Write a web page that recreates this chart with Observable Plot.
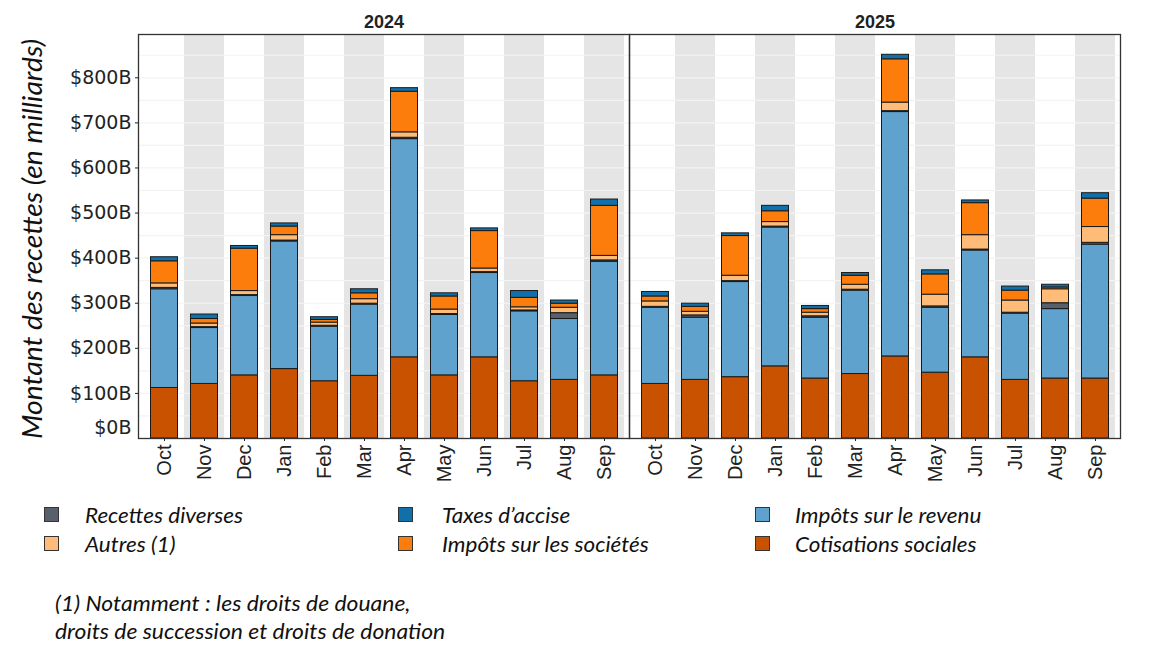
<!DOCTYPE html>
<html><head><meta charset="utf-8">
<script src="https://cdn.jsdelivr.net/npm/d3@7"></script>
<script src="https://cdn.jsdelivr.net/npm/@observablehq/plot@0.6"></script>
<style>
body{margin:0;background:#fff;width:1159px;height:646px;position:relative;overflow:hidden;font-family:"Liberation Sans",Arial,sans-serif}
#chart{position:absolute;left:0;top:0}
.it{position:absolute;font-family:Lato,"Open Sans",sans-serif;font-style:italic;color:#111;white-space:nowrap;line-height:1;transform-origin:0 50%}
.lt{font-size:21px;transform:scaleX(1.07)}
.fn{font-size:21px;transform:scaleX(1.09)}
.sw{position:absolute;width:15px;height:15px;border:1px solid #333;box-sizing:border-box}
#ytitle{position:absolute;left:31px;top:239px;transform-origin:50% 50%;transform:translate(-50%,-50%) rotate(-90deg) scaleX(1.047);font-size:27px}
</style></head><body>
<div id="chart"></div>
<div id="ytitle" class="it">Montant des recettes (en milliards)</div>
<div id="legend"></div>
<div class="it fn" style="left:55px;top:592px">(1) Notamment : les droits de douane,</div>
<div class="it fn" style="left:55px;top:620px">droits de succession et droits de donation</div>
<script>
const years = ["2024", "2025"];
const months = ["Oct","Nov","Dec","Jan","Feb","Mar","Apr","May","Jun","Jul","Aug","Sep"];
const categories = ["Cotisations sociales","Impôts sur le revenu","Recettes diverses","Autres (1)","Impôts sur les sociétés","Taxes d’accise"];
const colors = ["#c85200","#5fa2ce","#57606c","#ffbc79","#fc7d0b","#1170aa"];

// values in billions, Oct ... Sep for 2024, then Oct ... Sep for 2025
const cotisations = [112,121,140,154,127,139,180,140,180,127,130,140, 121,130,136,160,133,143,182,146,180,130,133,133];
const revenu      = [219,124,176,283,121,158,484,134,187,155,135,252, 169,138,211,308,135,185,542,144,237,147,154,297];
const diverses    = [3,2,2,2,2,2,3,2,2,2,13,3, 2,5,2,2,3,2,2,3,2,2,13,4];
const autres      = [10,8,9,12,7,10,12,10,8,7,12,10, 12,8,12,10,8,11,19,26,32,27,31,35];
const societes    = [49,10,94,19,6,13,90,29,83,21,9,111, 11,11,88,24,8,20,96,45,71,22,4,63];
const accise      = [9,10,6,7,6,9,8,7,6,15,7,14, 10,7,6,12,7,6,10,9,6,9,6,12];

const yTicks = [100,200,300,400,500,600,700,800];
const gridValues = [50,100,150,200,250,300,350,400,450,500,550,600,650,700,750,800,850];
const yMax = 896;

const series = [cotisations, revenu, diverses, autres, societes, accise];
const rows = [];
years.forEach((yr, yi) => months.forEach((m, mi) => categories.forEach((c, ci) =>
  rows.push({year: yr, month: m, cat: c, value: series[ci][yi * 12 + mi]}))));
const bands = [];
years.forEach(yr => months.forEach((m, mi) => { if (mi % 2 === 1) bands.push({year: yr, month: m}); }));

const plot = Plot.plot({
  width: 1159, height: 495,
  marginLeft: 137, marginRight: 39, marginTop: 34, marginBottom: 57,
  style: {fontFamily: "'Liberation Sans', Arial, sans-serif", background: "white", color: "#222"},
  fx: {domain: years, padding: 0, label: null},
  x: {domain: months, padding: 0, label: null},
  y: {domain: [0, yMax], label: null},
  color: {domain: categories, range: colors},
  marks: [
    Plot.barY(bands, {fx: "year", x: "month", y1: 0, y2: yMax, fill: "#e5e5e5"}),
    Plot.ruleY(gridValues, {stroke: "#f3f3f3", strokeWidth: 1.2}),
    Plot.barY(rows, {fx: "year", x: "month", y: "value", fill: "cat", stroke: "#1a1a1a", strokeWidth: 1, insetLeft: 6.5, insetRight: 6.5}),
    Plot.frame({stroke: "#333", strokeWidth: 1.3}),
    Plot.axisY({ticks: yTicks, tickFormat: d => `$${d}B`, fontSize: 19, fontFamily: "'DejaVu Sans', sans-serif", tickSize: 3, tickPadding: 4, label: null}),
    Plot.axisY({ticks: [0], tickFormat: d => `$${d}B`, fontSize: 19, fontFamily: "'DejaVu Sans', sans-serif", tickSize: 0, tickPadding: 7, dy: -11, label: null}),
    Plot.axisX({tickRotate: -90, fontSize: 20, tickSize: 3, tickPadding: 3, label: null}),
    Plot.axisFx({anchor: "top", fontSize: 18, fontWeight: "bold", tickSize: 0, tickPadding: 7, label: null})
  ]
});
document.getElementById("chart").appendChild(plot);

// legend
const legendItems = [
  {cat: "Recettes diverses", sx: 44, tx: 85, row: 0},
  {cat: "Taxes d’accise", sx: 398, tx: 442, row: 0},
  {cat: "Impôts sur le revenu", sx: 755, tx: 795, row: 0},
  {cat: "Autres (1)", sx: 44, tx: 85, row: 1},
  {cat: "Impôts sur les sociétés", sx: 398, tx: 442, row: 1},
  {cat: "Cotisations sociales", sx: 755, tx: 795, row: 1}
];
const leg = document.getElementById("legend");
legendItems.forEach(it => {
  const top = 507 + it.row * 29;
  const sw = document.createElement("div");
  sw.className = "sw";
  sw.style.left = it.sx + "px"; sw.style.top = top + "px";
  sw.style.background = colors[categories.indexOf(it.cat)];
  leg.appendChild(sw);
  const t = document.createElement("div");
  t.className = "it lt";
  t.style.left = it.tx + "px"; t.style.top = (top - 3) + "px";
  t.textContent = it.cat;
  leg.appendChild(t);
});
</script>
</body></html>
